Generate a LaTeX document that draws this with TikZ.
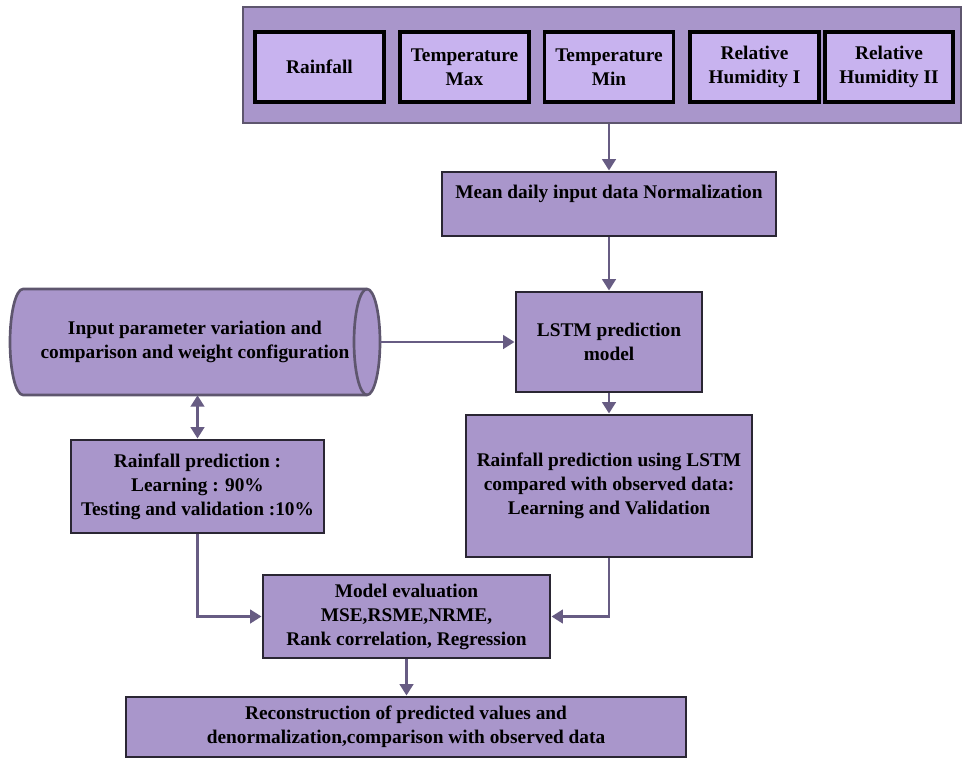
\documentclass[tikz,border=0pt]{standalone}
\usepackage{fontspec}
\setmainfont{Liberation Serif}[BoldFont={Liberation Serif Bold}, ItalicFont={Liberation Serif Italic}]
\usetikzlibrary{arrows.meta}

\definecolor{boxfill}{HTML}{A996CB}
\definecolor{lightfill}{HTML}{C8B3EF}
\definecolor{edgec}{HTML}{2A2633}
\definecolor{arrowc}{HTML}{675C83}
\definecolor{outeredge}{HTML}{5E566E}

\tikzset{
  txt/.style={align=center, font=\rmfamily\bfseries\fontsize{14.5}{18}\selectfont, inner sep=0pt},
  mainbox/.style={txt, draw=edgec, line width=2.2pt, fill=boxfill},
  outerbox/.style={draw=outeredge, line width=2pt, fill=boxfill, inner sep=0pt},
  varbox/.style={txt, draw=black, line width=2.6pt, fill=lightfill, minimum width=96.75pt, minimum height=52.5pt},
  conn/.style={draw=arrowc, line width=2.2pt, -{Triangle[length=8.5pt,width=10pt]}},
  conntwo/.style={draw=arrowc, line width=2.2pt, {Triangle[length=8.5pt,width=10pt]}-{Triangle[length=8.5pt,width=10pt]}},
  cylshape/.style={draw=outeredge, line width=2pt, fill=boxfill}
}

\begin{document}
\begin{tikzpicture}[x=0.75pt,y=-0.75pt]
\useasboundingbox (0,0) rectangle (962,759);

% top group of inputs
\node[outerbox, minimum width=538.5pt, minimum height=87pt] (inputs) at (602,65) {};
\node[varbox] (rain) at (319.5,67) {Rainfall};
\node[varbox] (tmax) at (464.5,67) {Temperature\\Max};
\node[varbox] (tmin) at (609,67) {Temperature\\Min};
\node[varbox] (rh1) at (754.5,67) {Relative\\Humidity I};
\node[varbox, minimum width=96pt] (rh2) at (889,67) {Relative\\Humidity II};

% normalization
\node[mainbox, minimum width=250.5pt, minimum height=48pt] (norm) at (609,204) {Mean daily input data Normalization\\\mbox{}};

% LSTM model
\node[mainbox, minimum width=139.5pt, minimum height=75pt] (lstm) at (609,342) {LSTM prediction\\model};

% cylinder
\draw[cylshape] (367,289) arc[start angle=90, end angle=-90, x radius=9.75pt, y radius=39.75pt]
  -- (23,395) arc[start angle=270, end angle=90, x radius=9.75pt, y radius=39.75pt] -- cycle;
\draw[draw=outeredge, line width=2pt] (367,289) arc[start angle=90, end angle=270, x radius=9.75pt, y radius=39.75pt];
\node[txt, minimum width=277.5pt, minimum height=79.5pt] (cyl) at (195,342) {Input parameter variation and\\comparison and weight configuration};

% left prediction box
\node[mainbox, minimum width=189.75pt, minimum height=69.75pt] (predl) at (197.5,486.5) {Rainfall prediction :\\Learning : 90\%\\Testing and validation :10\%};

% right comparison box
\node[mainbox, minimum width=214.5pt, minimum height=106.5pt] (cmp) at (609,486) {Rainfall prediction using LSTM\\compared with observed data:\\Learning and Validation};

% model evaluation
\node[mainbox, minimum width=215.25pt, minimum height=62.25pt] (evalm) at (406.5,616.5) {Model evaluation\\MSE,RSME,NRME,\\Rank correlation, Regression};

% reconstruction
\node[mainbox, minimum width=420pt, minimum height=45pt] (recon) at (406,727) {Reconstruction of predicted values and\\denormalization,comparison with observed data};

% connectors
\draw[conn] (inputs.south -| norm.north) -- (norm.north);
\draw[conn] (norm.south) -- (lstm.north);
\draw[conn] (cyl.east) -- (cyl.east -| lstm.west);
\draw[conntwo] (cyl.south -| predl.north) -- (predl.north);
\draw[conn] (lstm.south) -- (cmp.north);
\draw[conn] (predl.south) |- (evalm.west);
\draw[conn] (cmp.south) |- (evalm.east);
\draw[conn] (evalm.south) -- (evalm.south |- recon.north);
\end{tikzpicture}
\end{document}
